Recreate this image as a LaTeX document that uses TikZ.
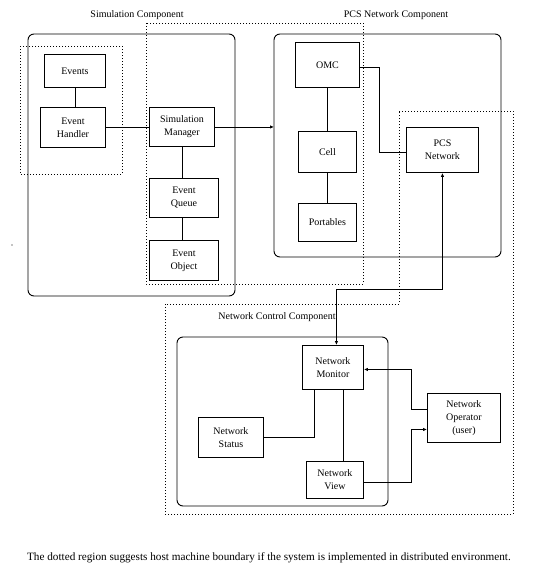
\documentclass[tikz,border=0pt]{standalone}
\usepackage{fontspec}
\setmainfont{Liberation Serif}
\usetikzlibrary{arrows.meta}
\begin{document}
\begin{tikzpicture}[x=1pt,y=-1pt,
  every node/.style={font=\fontsize{10}{13}\selectfont},
  box/.style={draw,line width=0.9pt,anchor=north west,inner sep=0pt,align=center},
  comp/.style={draw,line width=0.9pt,rounded corners=6pt},
  dotbound/.style={line width=0.9pt,dash pattern=on 0.9pt off 2.1pt},
  conn/.style={line width=0.9pt},
  arr/.style={line width=0.9pt,-{Latex[length=4pt,width=3.5pt]}},
  darr/.style={line width=0.9pt,{Latex[length=4pt,width=3.5pt]}-{Latex[length=4pt,width=3.5pt]}}]
\useasboundingbox (0,0) rectangle (540,587);
% containers
\draw[comp] (28,34) rectangle (235,296);
\draw[comp] (274,34) rectangle (501,257);
\draw[comp] (177,337) rectangle (388,506);
\coordinate (pcsW) at (274,125);
% dotted boundaries
\draw[dotbound] (20,46) rectangle (122,174);
\draw[dotbound] (146,23) rectangle (363,284);
\draw[dotbound] (399,111) -- (513,111) -- (513,514) -- (165,514) -- (165,304) -- (399,304) -- cycle;
% titles
\node (t1) at (137,15) {Simulation Component};
\node (t2) at (396,15) {PCS Network Component};
\node (t3) at (277,317) {Network Control Component};
% boxes
\node[box,minimum width=61pt,minimum height=33pt] (events) at (44,54) {Events};
\node[box,minimum width=65pt,minimum height=40pt] (handler) at (40,107) {Event\\Handler};
\node[box,minimum width=65pt,minimum height=39pt] (simmgr) at (149,107) {Simulation\\Manager};
\node[box,minimum width=69pt,minimum height=39pt] (queue) at (149,178) {Event\\Queue};
\node[box,minimum width=69pt,minimum height=40pt] (object) at (149,240) {Event\\Object};
\node[box,minimum width=64pt,minimum height=45pt] (omc) at (295,42) {OMC};
\node[box,minimum width=58pt,minimum height=41pt] (cell) at (298,131) {Cell};
\node[box,minimum width=58pt,minimum height=38pt] (portables) at (298,203) {Portables};
\node[box,minimum width=72pt,minimum height=45pt] (pcsnet) at (406,127) {PCS\\Network};
\node[box,minimum width=61pt,minimum height=44pt] (monitor) at (302,345) {Network\\Monitor};
\node[box,minimum width=65pt,minimum height=40pt] (status) at (198,417) {Network\\Status};
\node[box,minimum width=57pt,minimum height=37pt] (view) at (306,461) {Network\\View};
\node[box,minimum width=73pt,minimum height=49pt] (operator) at (427,393) {Network\\Operator\\(user)};
% connectors
\draw[conn] (events.south) -- (events.south |- handler.north);
\draw[conn] (handler.east) -- (handler.east -| simmgr.west);
\draw[conn] (simmgr.south) -- (simmgr.south |- queue.north);
\draw[conn] (simmgr.south |- queue.south) -- (simmgr.south |- object.north);
\draw[arr] (simmgr.east) -- (simmgr.east -| pcsW);
\draw[conn] (omc.south) -- (cell.north);
\draw[conn] (cell.south) -- (portables.north);
\draw[conn] ([yshift=-2.5pt]omc.east) -- ++(20,0) |- ([yshift=-2.5pt]pcsnet.west);
\draw[darr] (pcsnet.south) -- ++(0,117) -| ([xshift=3.5pt]monitor.north);
\draw[conn] ([xshift=-18.5pt]monitor.south) |- (status.east);
\draw[conn] ([xshift=10.5pt]monitor.south) -- ([xshift=10.5pt]monitor.south |- view.north);
\draw[arr] ([yshift=8.5pt]operator.west) -- ++(-16,0) |- ([yshift=-2pt]monitor.east);
\draw[arr] ([yshift=-2.5pt]view.east) -| ([xshift=-16pt,yshift=-11.5pt]operator.west) -- ([yshift=-11.5pt]operator.west);
% stray dot
\fill (12,245) circle (0.6pt);
% caption
\node[font=\fontsize{11.2}{13}\selectfont] (caption) at (269,558) {The dotted region suggests host machine boundary if the system is implemented in distributed environment.};
\end{tikzpicture}
\end{document}
